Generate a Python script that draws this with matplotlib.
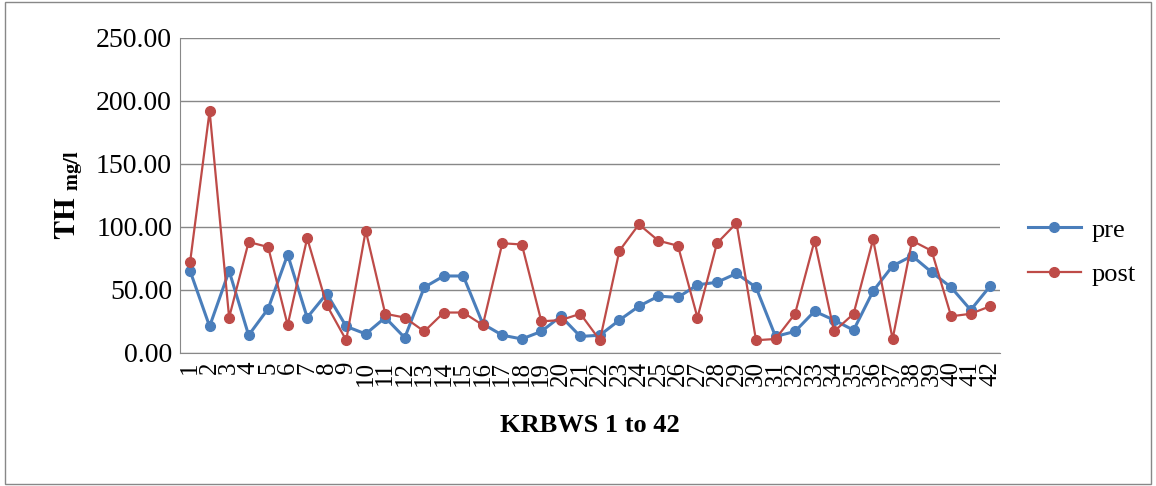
import matplotlib
matplotlib.use("Agg")
import matplotlib.pyplot as plt
from matplotlib.patches import Rectangle

plt.rcParams['font.family'] = ['Liberation Serif', 'DejaVu Serif']
plt.rcParams['mathtext.fontset'] = 'stix'

stations = list(range(1, 43))
pre = [65, 21, 65, 14, 35, 78, 28, 47, 21, 15, 28, 12, 52, 61, 61, 23, 14, 11, 17, 29, 13,
       14, 26, 37, 45, 44, 54, 56, 63, 52, 13, 17, 33, 26, 18, 49, 69, 77, 64, 52, 34, 53]
post = [72, 192, 28, 88, 84, 22, 91, 38, 10, 97, 31, 28, 17, 32, 32, 22, 87, 86, 25, 26, 31,
        10, 81, 102, 89, 85, 28, 87, 103, 10, 11, 31, 89, 17, 31, 90, 11, 89, 81, 29, 31, 37]
yticks = [0, 50, 100, 150, 200, 250]

fig = plt.figure(figsize=(11.56, 4.86), dpi=100)
fig.patches.append(Rectangle((0.004, 0.004), 0.992, 0.992, transform=fig.transFigure,
                             fill=False, edgecolor='#888888', lw=1))
ax = fig.add_axes([0.156, 0.274, 0.709, 0.648])
for y in yticks:
    ax.axhline(y, color='#888888', lw=1, zorder=0)
ax.plot(stations, pre, '-o', color='#4A7EBB', lw=2.2, ms=7, label='pre')
ax.plot(stations, post, '-o', color='#BE4B48', lw=1.6, ms=7, label='post')
ax.set_xlim(0.5, 42.5)
ax.set_ylim(0, 250)
ax.set_yticks(yticks)
ax.set_yticklabels([f'{v:.2f}' for v in yticks], fontsize=20)
ax.set_xticks(stations)
ax.set_xticklabels([str(s) for s in stations], rotation=90, fontsize=18)
for s in ['top', 'right']:
    ax.spines[s].set_visible(False)
for s in ['left', 'bottom']:
    ax.spines[s].set_color('#888888')
ax.tick_params(axis='both', length=0, pad=6)
ax.set_xlabel('KRBWS 1 to 42', fontsize=19, fontweight='bold', labelpad=20)
ax.set_ylabel(r'$\mathbf{TH}$ $_{\mathbf{mg/l}}$', fontsize=21, labelpad=8)
ax.legend(loc='center left', bbox_to_anchor=(1.005, 0.32), frameon=False, fontsize=19,
          handlelength=2.0, labelspacing=0.8, handletextpad=0.4)
fig.savefig('out.png', dpi=100)
